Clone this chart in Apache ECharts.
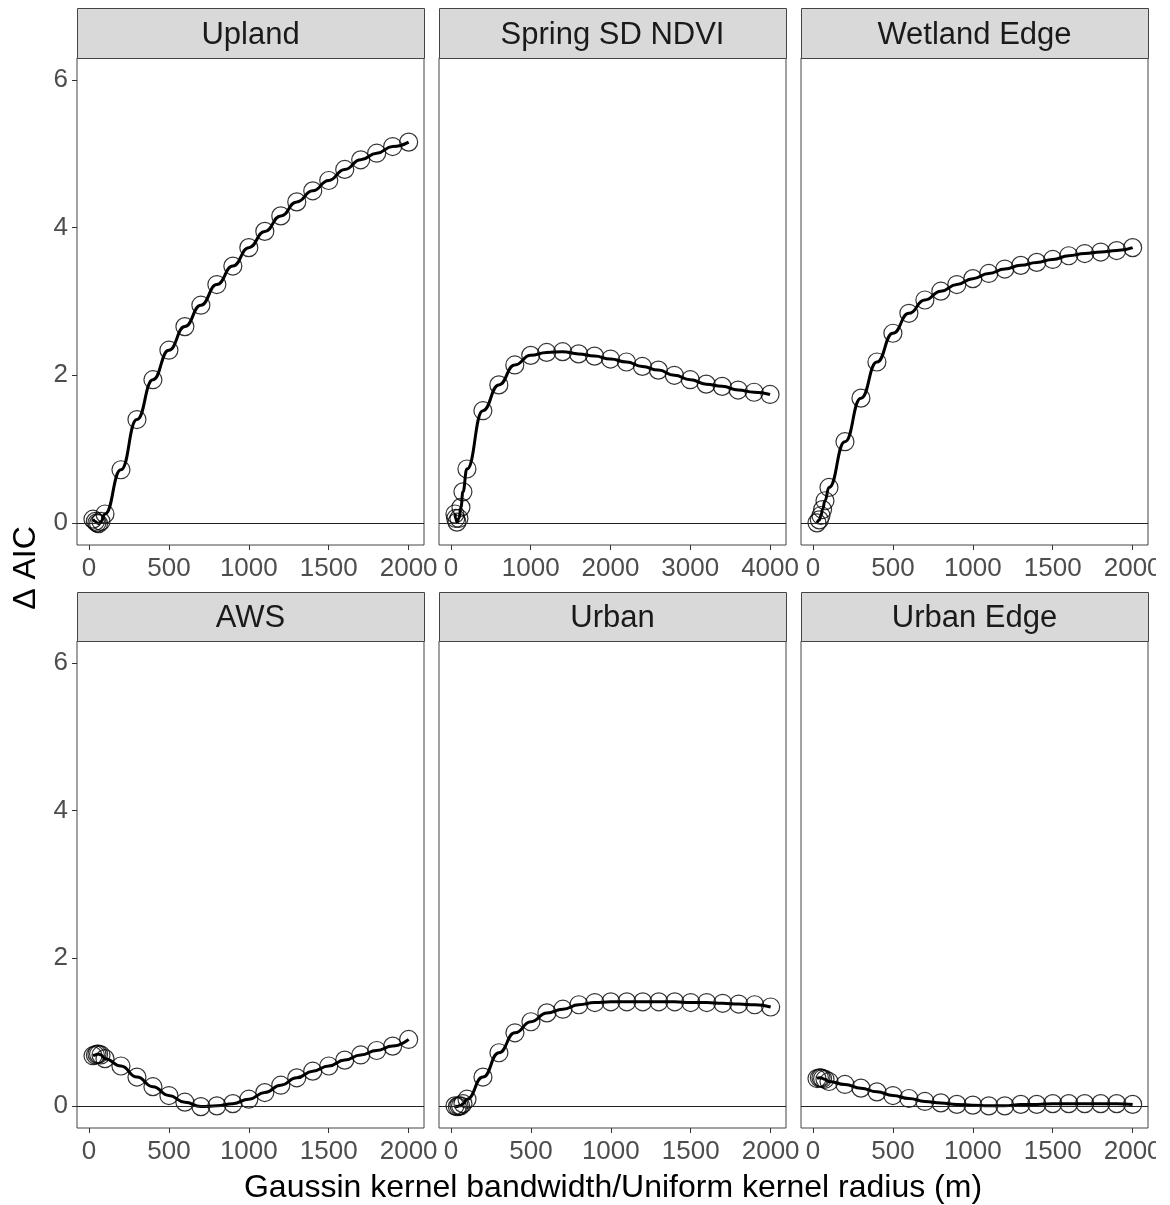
<!DOCTYPE html>
<html>
<head>
<meta charset="utf-8">
<script src="https://cdn.jsdelivr.net/npm/echarts@6/dist/echarts.min.js"></script>
<style>
html,body{margin:0;padding:0;background:#fff;}
#c{width:1170px;height:1205px;}
</style>
</head>
<body>
<div id="c"></div>
<script>
// ---- data ----
const panelNames = ['Upland', 'Spring SD NDVI', 'Wetland Edge', 'AWS', 'Urban', 'Urban Edge'];
const xStd = [25, 40, 50, 60, 75, 100, 200, 300, 400, 500, 600, 700, 800, 900, 1000, 1100, 1200, 1300, 1400, 1500, 1600, 1700, 1800, 1900, 2000];
const xNdvi = [50, 60, 75, 100, 125, 150, 200, 400, 600, 800, 1000, 1200, 1400, 1600, 1800, 2000, 2200, 2400, 2600, 2800, 3000, 3200, 3400, 3600, 3800, 4000];
const upland = [0.05, 0.02, 0.00, -0.01, 0.02, 0.12, 0.72, 1.40, 1.94, 2.34, 2.66, 2.95, 3.23, 3.48, 3.73, 3.95, 4.16, 4.35, 4.50, 4.64, 4.79, 4.92, 5.01, 5.10, 5.16];
const springNdvi = [0.12, 0.06, 0.01, 0.06, 0.21, 0.42, 0.73, 1.52, 1.87, 2.14, 2.27, 2.31, 2.32, 2.29, 2.26, 2.22, 2.18, 2.12, 2.07, 2.00, 1.94, 1.88, 1.85, 1.80, 1.77, 1.74];
const wetlandEdge = [0.00, 0.04, 0.10, 0.18, 0.30, 0.48, 1.10, 1.69, 2.18, 2.57, 2.84, 3.02, 3.14, 3.23, 3.31, 3.38, 3.44, 3.49, 3.53, 3.57, 3.62, 3.65, 3.67, 3.69, 3.73];
const aws = [0.68, 0.69, 0.70, 0.70, 0.69, 0.64, 0.54, 0.39, 0.26, 0.14, 0.05, -0.01, 0.00, 0.03, 0.09, 0.18, 0.28, 0.38, 0.47, 0.54, 0.62, 0.69, 0.75, 0.81, 0.90];
const urban = [0.00, -0.01, 0.00, 0.00, 0.03, 0.09, 0.39, 0.72, 0.99, 1.14, 1.26, 1.31, 1.37, 1.40, 1.41, 1.41, 1.41, 1.41, 1.41, 1.40, 1.40, 1.39, 1.38, 1.37, 1.34];
const urbanEdge = [0.37, 0.38, 0.38, 0.37, 0.36, 0.33, 0.29, 0.24, 0.19, 0.14, 0.10, 0.06, 0.04, 0.02, 0.01, 0.00, 0.00, 0.02, 0.02, 0.03, 0.03, 0.03, 0.03, 0.03, 0.02];
const xTicksStd = [0, 500, 1000, 1500, 2000];
const xTicksNdvi = [0, 1000, 2000, 3000, 4000];
const yTicks = [0, 2, 4, 6];
const xTitle = 'Gaussin kernel bandwidth/Uniform kernel radius (m)';
const yTitle = '\u0394 AIC';

// ---- layout ----
const FONT = '"Liberation Sans", Arial, sans-serif';
const colLeft = [77, 439, 801];
const panelW = 347;
const rowTop = [58, 641];
const panelH = 487;
const stripTop = [8, 592];

const panels = [
  {x: xStd, y: upland, ticks: xTicksStd, min: -75, max: 2096},
  {x: xNdvi, y: springNdvi, ticks: xTicksNdvi, min: -150, max: 4200},
  {x: xStd, y: wetlandEdge, ticks: xTicksStd, min: -75, max: 2096},
  {x: xStd, y: aws, ticks: xTicksStd, min: -75, max: 2096},
  {x: xStd, y: urban, ticks: xTicksStd, min: -75, max: 2096},
  {x: xStd, y: urbanEdge, ticks: xTicksStd, min: -75, max: 2096}
];
const plain = v => String(v);

const grids = [], xAxes = [], yAxes = [], series = [], graphics = [];
panels.forEach((p, i) => {
  const row = Math.floor(i / 3), col = i % 3;
  grids.push({
    left: colLeft[col], top: rowTop[row], width: panelW, height: panelH,
    show: true, borderColor: '#444', borderWidth: 1, backgroundColor: 'rgba(0,0,0,0)'
  });
  xAxes.push({
    type: 'value', gridIndex: i, min: p.min, max: p.max, position: 'bottom',
    axisLine: {show: false, onZero: false},
    splitLine: {show: false},
    axisTick: {show: true, inside: false, length: 5, lineStyle: {color: '#333', width: 1}, customValues: p.ticks},
    axisLabel: {show: true, customValues: p.ticks, formatter: plain, color: '#4D4D4D', fontSize: 26, fontFamily: FONT, margin: 11}
  });
  yAxes.push({
    type: 'value', gridIndex: i, min: -0.3, max: 6.3, position: 'left',
    axisLine: {show: false, onZero: false},
    splitLine: {show: false},
    axisTick: {show: col === 0, inside: false, length: 5, lineStyle: {color: '#333', width: 1}, customValues: yTicks},
    axisLabel: {show: col === 0, customValues: yTicks, formatter: plain, color: '#4D4D4D', fontSize: 26, fontFamily: FONT, margin: 9}
  });
  const pts = p.x.map((xv, k) => [xv, p.y[k]]);
  series.push({
    type: 'line', xAxisIndex: i, yAxisIndex: i, data: pts,
    smooth: 0.5, smoothMonotone: 'x', showSymbol: false, silent: true,
    lineStyle: {color: '#000', width: 3}, z: 3,
    markLine: {
      silent: true, symbol: ['none', 'none'], label: {show: false},
      lineStyle: {color: '#222', width: 1, type: 'solid'},
      data: [{yAxis: 0}], animation: false
    }
  });
  series.push({
    type: 'scatter', xAxisIndex: i, yAxisIndex: i, data: pts,
    symbol: 'circle', symbolSize: 18, silent: true, z: 4,
    itemStyle: {color: 'rgba(0,0,0,0)', borderColor: '#000', borderWidth: 1.2}
  });
  // strip
  const sh = rowTop[row] - stripTop[row];
  graphics.push({
    type: 'rect', left: colLeft[col], top: stripTop[row], z: 10,
    shape: {x: 0, y: 0, width: panelW, height: sh},
    style: {fill: '#D9D9D9', stroke: '#444', lineWidth: 1}
  });
  graphics.push({
    type: 'text', z: 11,
    x: colLeft[col] + panelW / 2, y: stripTop[row] + sh / 2 + 2,
    style: {text: panelNames[i], fill: '#1A1A1A', font: '31px ' + FONT, align: 'center', verticalAlign: 'middle'}
  });
});

graphics.push({
  type: 'text', z: 11, x: 613, y: 1188,
  style: {text: xTitle, fill: '#000', font: '32px ' + FONT, align: 'center', verticalAlign: 'middle'}
});
graphics.push({
  type: 'text', z: 11, x: 26, y: 568, rotation: Math.PI / 2,
  style: {text: yTitle, fill: '#000', font: '32px ' + FONT, align: 'center', verticalAlign: 'middle'}
});
// right edge of the reference picture is cropped
graphics.push({
  type: 'rect', z: 20, left: 1156, top: 0,
  shape: {x: 0, y: 0, width: 14, height: 1205},
  style: {fill: '#fff'}
});

const chart = echarts.init(document.getElementById('c'), null, {renderer: 'canvas'});
chart.setOption({
  animation: false,
  backgroundColor: '#fff',
  grid: grids, xAxis: xAxes, yAxis: yAxes, series: series,
  graphic: graphics
});
</script>
</body>
</html>
